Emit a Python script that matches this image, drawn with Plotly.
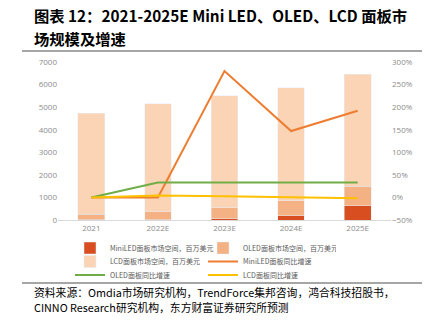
import plotly.graph_objects as go

years = ["2021", "2022E", "2023E", "2024E", "2025E"]
mini_bar = [5, 15, 45, 190, 635]
oled_bar = [240, 340, 500, 665, 870]
lcd_bar = [4485, 4785, 4965, 5005, 4945]
mini_g = [0, 0, 280, 147, 192]
oled_g = [0, 33, 33, 33, 33]
lcd_g = [0, 4.5, 2.5, 1, -2]

names = ["MiniLED面板市场空间，百万美元", "OLED面板市场空间，百万美元", "LCD面板市场空间，百万美元",
         "MiniLED面板同比增速", "OLED面板同比增速", "LCD面板同比增速"]

fig = go.Figure()
fig.add_bar(x=years, y=mini_bar, name=names[0], marker_color="#D84E20", width=0.4, legend="legend")
fig.add_bar(x=years, y=oled_bar, name=names[1], marker_color="#F4B183", width=0.4, legend="legend")
fig.add_bar(x=years, y=lcd_bar, name=names[2], marker_color="#FAD4B4", width=0.4, legend="legend2")
fig.add_scatter(x=years, y=mini_g, name=names[3], yaxis="y2", mode="lines",
                line=dict(color="#ED7D31", width=2), legend="legend2")
fig.add_scatter(x=years, y=oled_g, name=names[4], yaxis="y2", mode="lines",
                line=dict(color="#70AD47", width=2), legend="legend3")
fig.add_scatter(x=years, y=lcd_g, name=names[5], yaxis="y2", mode="lines",
                line=dict(color="#FFC000", width=2), legend="legend3")

tickfont = dict(family="Open Sans, Noto Sans CJK SC", size=8, color="#8c8c8c")
legfont = dict(family="Noto Sans CJK SC", size=7, color="#595959")
lx = (70 - 58) / 333


def leg(ypx):
    return dict(orientation="h", x=lx, xanchor="left", y=(220 - ypx) / 158, yanchor="top",
                traceorder="normal", entrywidth=88, itemwidth=30, font=legfont,
                bgcolor="rgba(0,0,0,0)")


fig.update_layout(
    width=429, height=321,
    margin=dict(l=58, r=38, t=62, b=101),
    paper_bgcolor="white", plot_bgcolor="white",
    barmode="stack", showlegend=True,
    xaxis=dict(showgrid=False, showline=True, linecolor="#d9d9d9", linewidth=1,
               ticks="", tickfont=tickfont),
    yaxis=dict(range=[0, 7000], dtick=1000, showgrid=False, zeroline=False,
               ticks="", tickfont=tickfont, showline=False),
    yaxis2=dict(range=[-50, 300], dtick=50, overlaying="y", side="right",
                showgrid=False, zeroline=False, ticksuffix="%", tickfont=tickfont),
    legend=leg(233.5), legend2=leg(247), legend3=leg(260.5),
    font=dict(family="Noto Sans CJK SC"),
)

title_font = dict(family="Noto Sans CJK SC", size=15.3, color="black", weight="bold")
fig.add_annotation(text="图表 12：2021-2025E Mini LED、OLED、LCD 面板市", xref="paper", yref="paper",
                   x=(32 - 58) / 333, y=(220 - 15) / 158, xanchor="left", yanchor="middle",
                   showarrow=False, font=title_font)
fig.add_annotation(text="场规模及增速", xref="paper", yref="paper",
                   x=(32 - 58) / 333, y=(220 - 38) / 158, xanchor="left", yanchor="middle",
                   showarrow=False, font=title_font)

src_font = dict(family="Noto Sans CJK SC", size=10.8, color="black")
fig.add_annotation(text="资料来源：Omdia市场研究机构，TrendForce集邦咨询，鸿合科技招股书，",
                   xref="paper", yref="paper", x=(32 - 58) / 333, y=(220 - 291.5) / 158,
                   xanchor="left", yanchor="middle", showarrow=False, font=src_font)
fig.add_annotation(text="CINNO Research研究机构，东方财富证券研究所预测",
                   xref="paper", yref="paper", x=(32 - 58) / 333, y=(220 - 306.5) / 158,
                   xanchor="left", yanchor="middle", showarrow=False, font=src_font)

x0 = (22 - 58) / 333
x1 = (422 - 58) / 333
fig.add_shape(type="line", xref="paper", yref="paper", x0=x0, x1=x1,
              y0=(220 - 51) / 158, y1=(220 - 51) / 158, line=dict(color="#888888", width=1.5))
fig.add_shape(type="line", xref="paper", yref="paper", x0=x0, x1=x1,
              y0=(220 - 283) / 158, y1=(220 - 283) / 158, line=dict(color="#888888", width=1.5))

fig.write_html("out.html")
